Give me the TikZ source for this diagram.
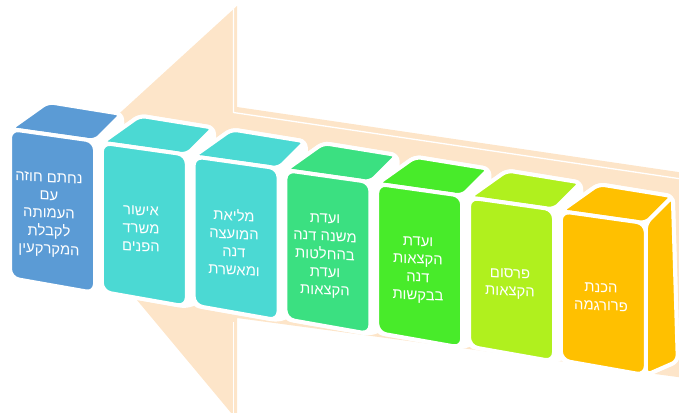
\documentclass[tikz,border=0pt]{standalone}
\usepackage{fontspec}
\newfontfamily\heb[Script=Hebrew]{Liberation Sans}
\TeXXeTstate=1
\newcommand\hbl[1]{\beginR #1\endR}
\definecolor{arrowc}{HTML}{FDE5C9}
\definecolor{cA}{HTML}{5B9BD5}
\definecolor{cB}{HTML}{4BD9D3}
\definecolor{cC}{HTML}{3BE081}
\definecolor{cD}{HTML}{48EB2A}
\definecolor{cE}{HTML}{B0F01E}
\definecolor{cF}{HTML}{FFC000}
\begin{document}
\begin{tikzpicture}[x=1pt,y=-1pt,
  lbl/.style={text=white, align=center, font=\heb\fontsize{14.8}{18}\selectfont, inner sep=0pt, yslant=-0.05},
  edge/.style={draw=white, line width=4pt, line join=round}]
\useasboundingbox (0,0) rectangle (679,412);
\clip (0,0) rectangle (679,412);
% big background arrow
\fill[arrowc] (41,185) -- (237,6) -- (237,107) -- (685,173) -- (685,378) -- (237,318) -- (237,420) -- cycle;
\draw[white, line width=1.3pt] (233.5,9) -- (233.5,112.5) -- (685,179.5);
\draw[white, line width=1.3pt] (233.5,322) -- (233.5,415);
% boxes
\foreach \i/\col in {0/cA,1/cB,2/cB,3/cC,4/cD,5/cE,6/cF}{
  \pgfmathsetmacro\xa{10+91.8*\i}
  \pgfmathsetmacro\ya{129+13.7*\i}
  \pgfmathsetmacro\xb{\xa+85}
  \pgfmathsetmacro\yb{\ya+12}
  \pgfmathsetmacro\yc{\ya+164}
  \pgfmathsetmacro\yd{\ya+149}
  \fill[white, edge, rounded corners=6pt] (\xa,\ya) -- ({\xa+38},{\ya-27}) -- ({\xb+27},{\yb-27}) -- ({\xb+32},{\yc-14}) -- (\xb,\yc) -- (\xa,\yd) -- cycle;
  \filldraw[fill=\col, edge, rounded corners=6pt] (\xa,\ya) -- ({\xa+38},{\ya-27}) -- ({\xb+27},{\yb-27}) -- (\xb,\yb) -- cycle;
  \ifnum\i=6
    \filldraw[fill=\col, edge, rounded corners=6pt] (\xb,\yb) -- ({\xb+27},{\yb-27}) -- ({\xb+32},{\yc-14}) -- (\xb,\yc) -- cycle;
  \fi
  \filldraw[fill=\col, edge, rounded corners=9pt] (\xa,\ya) -- (\xb,\yb) -- (\xb,\yc) -- (\xa,\yd) -- cycle;
}
% labels
\node[lbl] (t1) at (49,215) {\hbl{נחתם חוזה}\\\hbl{עם}\\\hbl{העמותה}\\\hbl{לקבלת}\\\hbl{המקרקעין}};
\node[lbl] (t2) at (141,229) {\hbl{אישור}\\\hbl{משרד}\\\hbl{הפנים}};
\node[lbl] (t3) at (234,242) {\hbl{מליאת}\\\hbl{המועצה}\\\hbl{דנה}\\\hbl{ומאשרת}};
\node[lbl] (t4) at (325,256) {\hbl{ועדת}\\\hbl{משנה דנה}\\\hbl{בהחלטות}\\\hbl{ועדת}\\\hbl{הקצאות}};
\node[lbl] (t5) at (418,270) {\hbl{ועדת}\\\hbl{הקצאות}\\\hbl{דנה}\\\hbl{בבקשות}};
\node[lbl] (t6) at (510,284) {\hbl{פרסום}\\\hbl{הקצאות}};
\node[lbl] (t7) at (601,297) {\hbl{הכנת}\\\hbl{פרורגמה}};
\end{tikzpicture}
\end{document}
